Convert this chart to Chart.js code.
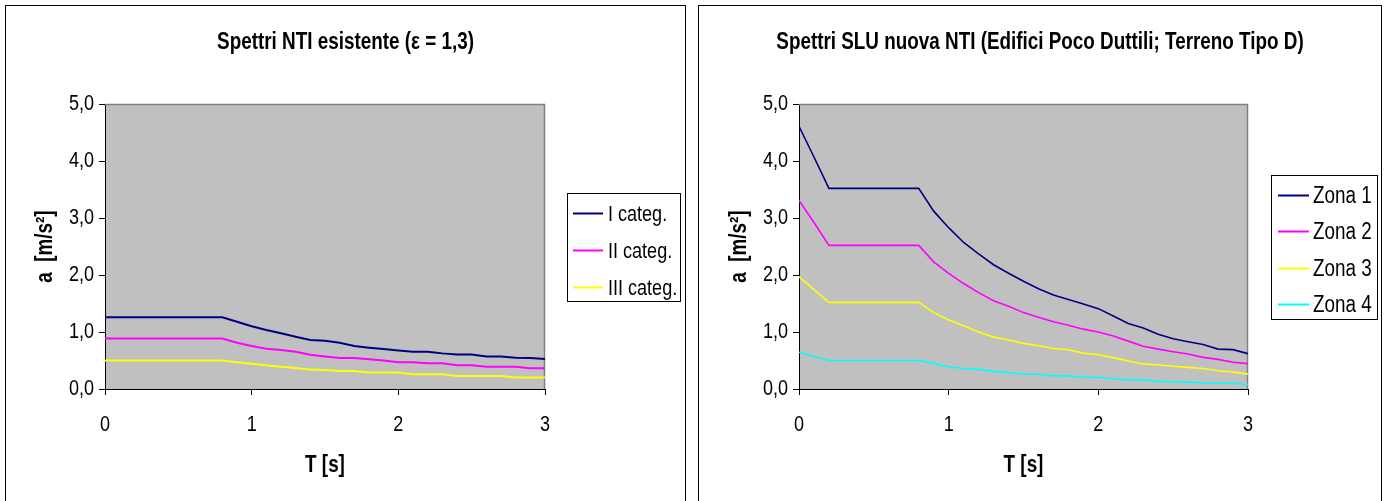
<!DOCTYPE html>
<html>
<head>
<meta charset="utf-8">
<script src="https://cdn.jsdelivr.net/npm/chart.js@4.4.1/dist/chart.umd.min.js"></script>
<style>
  html, body { margin: 0; padding: 0; background: #fff; overflow: hidden; }
  .box { position: absolute; border: 1px solid #000; background: #fff; }
  #boxA { left: 5px; top: 5px; width: 679px; height: 510px; }
  #boxB { left: 698px; top: 5px; width: 682px; height: 510px; }
  canvas { display: block; }
</style>
</head>
<body>
<div class="box" id="boxA"><canvas id="chartNTI" width="679" height="490"></canvas></div>
<div class="box" id="boxB"><canvas id="chartSLU" width="682" height="490"></canvas></div>
<script>
// Period T [s]
const periods = [0, 0.1, 0.2, 0.3, 0.4, 0.5, 0.6, 0.7, 0.8, 0.9, 1.0,
                 1.1, 1.2, 1.3, 1.4, 1.5, 1.6, 1.7, 1.8, 1.9, 2.0,
                 2.1, 2.2, 2.3, 2.4, 2.5, 2.6, 2.7, 2.8, 2.9, 3.0];

// Existing code spectra, a [m/s²]
const categI   = [1.26, 1.26, 1.26, 1.26, 1.26, 1.26, 1.26, 1.26, 1.26, 1.18, 1.10,
                  1.035, 0.977, 0.918, 0.86, 0.845, 0.81, 0.755, 0.725, 0.70, 0.675,
                  0.655, 0.655, 0.625, 0.605, 0.605, 0.57, 0.57, 0.55, 0.545, 0.525];
const categII  = [0.885, 0.885, 0.885, 0.885, 0.885, 0.885, 0.885, 0.885, 0.885, 0.81, 0.755,
                  0.705, 0.685, 0.655, 0.60, 0.57, 0.545, 0.545, 0.52, 0.50, 0.47,
                  0.47, 0.45, 0.45, 0.415, 0.415, 0.39, 0.39, 0.39, 0.365, 0.365];
const categIII = [0.50, 0.50, 0.50, 0.50, 0.50, 0.50, 0.50, 0.50, 0.50, 0.47, 0.445,
                  0.415, 0.39, 0.37, 0.34, 0.335, 0.315, 0.315, 0.29, 0.29, 0.29,
                  0.26, 0.26, 0.26, 0.23, 0.23, 0.23, 0.23, 0.20, 0.20, 0.20];

// New code ULS spectra (low ductility buildings, soil type D), a [m/s²]
const zona1 = [4.61, 4.07, 3.52, 3.52, 3.52, 3.52, 3.52, 3.52, 3.52, 3.12, 2.83,
               2.57, 2.37, 2.18, 2.03, 1.89, 1.76, 1.65, 1.57, 1.49, 1.41,
               1.28, 1.15, 1.07, 0.96, 0.88, 0.83, 0.78, 0.70, 0.69, 0.62];
const zona2 = [3.31, 2.92, 2.52, 2.52, 2.52, 2.52, 2.52, 2.52, 2.52, 2.23, 2.03,
               1.85, 1.69, 1.55, 1.45, 1.34, 1.26, 1.18, 1.12, 1.05, 1.00,
               0.93, 0.84, 0.75, 0.70, 0.655, 0.615, 0.555, 0.52, 0.47, 0.445];
const zona3 = [1.97, 1.745, 1.52, 1.52, 1.52, 1.52, 1.52, 1.52, 1.52, 1.34, 1.21,
               1.11, 1.00, 0.91, 0.86, 0.80, 0.76, 0.71, 0.69, 0.63, 0.60,
               0.55, 0.49, 0.44, 0.42, 0.40, 0.38, 0.36, 0.32, 0.30, 0.26];
const zona4 = [0.645, 0.57, 0.50, 0.50, 0.50, 0.50, 0.50, 0.50, 0.50, 0.45, 0.39,
               0.36, 0.345, 0.31, 0.29, 0.26, 0.26, 0.23, 0.23, 0.205, 0.205,
               0.18, 0.16, 0.16, 0.13, 0.13, 0.12, 0.105, 0.105, 0.10, 0.08];

// Axis tick labels
const xTickLabels = ['0', '1', '2', '3'];
const yTickLabels = ['0,0', '1,0', '2,0', '3,0', '4,0', '5,0'];

// Condensed lettering: every canvas string is drawn (and measured) narrower
const CONDENSE = 0.82;
(function () {
  const proto = CanvasRenderingContext2D.prototype;
  const fill = proto.fillText, measure = proto.measureText;
  proto.fillText = function (text, x, y, maxWidth) {
    this.save();
    this.translate(x, y);
    this.scale(CONDENSE, 1);
    if (maxWidth === undefined) fill.call(this, text, 0, 0);
    else fill.call(this, text, 0, 0, maxWidth / CONDENSE);
    this.restore();
  };
  proto.measureText = function (text) {
    const m = measure.call(this, text);
    return {
      width: m.width * CONDENSE,
      actualBoundingBoxLeft: m.actualBoundingBoxLeft * CONDENSE,
      actualBoundingBoxRight: m.actualBoundingBoxRight * CONDENSE,
      actualBoundingBoxAscent: m.actualBoundingBoxAscent,
      actualBoundingBoxDescent: m.actualBoundingBoxDescent,
      fontBoundingBoxAscent: m.fontBoundingBoxAscent,
      fontBoundingBoxDescent: m.fontBoundingBoxDescent
    };
  };
})();

const FONT = "'Liberation Sans', Arial, sans-serif";
Chart.defaults.font.family = FONT;
Chart.defaults.color = '#000';

const toPoints = (vals) => periods.map((t, i) => ({ x: t, y: vals[i] }));

// Grey plot area with a grey frame on the top and right edges
const plotFrame = {
  id: 'plotFrame',
  beforeDraw(chart) {
    const { ctx, chartArea: a } = chart;
    ctx.save();
    ctx.fillStyle = '#c0c0c0';
    ctx.fillRect(a.left, a.top, a.right - a.left, a.bottom - a.top);
    ctx.restore();
  },
  beforeDatasetsDraw(chart) {
    const { ctx, chartArea: a } = chart;
    ctx.save();
    ctx.strokeStyle = '#808080';
    ctx.lineWidth = 1.5;
    ctx.beginPath();
    ctx.moveTo(a.left, a.top + 0.5);
    ctx.lineTo(a.right - 0.5, a.top + 0.5);
    ctx.lineTo(a.right - 0.5, a.bottom);
    ctx.stroke();
    ctx.restore();
  }
};

// Framed legend to the right of the plot
const boxLegend = {
  id: 'boxLegend',
  afterDraw(chart, args, o) {
    const ctx = chart.ctx;
    ctx.save();
    ctx.fillStyle = '#fff';
    ctx.fillRect(o.x, o.y, o.w, o.h);
    ctx.strokeStyle = '#000';
    ctx.lineWidth = 1;
    ctx.strokeRect(o.x + 0.5, o.y + 0.5, o.w, o.h);
    ctx.font = o.fontSize + 'px ' + FONT;
    ctx.textBaseline = 'middle';
    ctx.textAlign = 'left';
    chart.data.datasets.forEach((ds, i) => {
      const y = Math.round(o.rowY0 + i * o.rowGap) + 0.5;
      ctx.strokeStyle = ds.borderColor;
      ctx.lineWidth = 2;
      ctx.beginPath();
      ctx.moveTo(o.lineX0, y);
      ctx.lineTo(o.lineX1, y);
      ctx.stroke();
      ctx.fillStyle = '#000';
      ctx.fillText(ds.label, o.textX, y + 1);
    });
    ctx.restore();
  }
};

function makeOptions(cfg) {
  return {
    responsive: false,
    animation: false,
    layout: { padding: 0 },
    elements: { point: { radius: 0 }, line: { tension: 0 } },
    plugins: {
      legend: { display: false },
      tooltip: { enabled: false },
      title: {
        display: true,
        text: cfg.title,
        font: { size: 23, weight: 'bold' },
        color: '#000',
        padding: { top: 23.2, bottom: 47.2 }
      },
      boxLegend: cfg.legend
    },
    scales: {
      x: {
        type: 'linear',
        min: 0, max: 3,
        afterFit: (s) => { s.height = 107; },
        ticks: {
          stepSize: 1,
          padding: 17,
          font: { size: 22 },
          color: '#000',
          callback: (v, i) => xTickLabels[i]
        },
        grid: { display: true, drawOnChartArea: false, drawTicks: true, tickLength: 6, color: '#000' },
        border: { display: true, color: '#000', width: 1 },
        title: {
          display: true,
          text: 'T [s]',
          font: { size: 23, weight: 'bold' },
          color: '#000',
          padding: { top: 0, bottom: 17 }
        }
      },
      y: {
        type: 'linear',
        min: 0, max: 5,
        afterFit: (s) => { s.width = cfg.yWidth; },
        ticks: {
          stepSize: 1,
          padding: 5,
          font: { size: 22 },
          color: '#000',
          callback: (v, i) => yTickLabels[i]
        },
        grid: { display: true, drawOnChartArea: false, drawTicks: true, tickLength: 6, color: '#000' },
        border: { display: true, color: '#000', width: 1 },
        title: {
          display: true,
          text: 'a  [m/s²]',
          font: { size: 23, weight: 'bold' },
          color: '#000',
          padding: { top: cfg.yTitlePad, bottom: 0 }
        }
      },
      // empty band on the right that holds the legend
      side: {
        type: 'linear',
        position: 'right',
        display: true,
        afterFit: (s) => { s.width = cfg.sideWidth; },
        ticks: { display: false },
        grid: { display: false },
        border: { display: false },
        title: { display: false }
      }
    }
  };
}

new Chart(document.getElementById('chartNTI'), {
  type: 'line',
  data: {
    datasets: [
      { label: 'I categ.',   data: toPoints(categI),   borderColor: '#000080', borderWidth: 2 },
      { label: 'II categ.',  data: toPoints(categII),  borderColor: '#ff00ff', borderWidth: 2 },
      { label: 'III categ.', data: toPoints(categIII), borderColor: '#ffff00', borderWidth: 2 }
    ]
  },
  options: makeOptions({
    title: 'Spettri NTI esistente (ε = 1,3)',
    sideWidth: 140,
    yWidth: 99,
    yTitlePad: 26,
    legend: { x: 561, y: 187, w: 113, h: 108, lineX0: 567, lineX1: 597, textX: 602,
              rowY0: 207, rowGap: 37, fontSize: 22 }
  }),
  plugins: [plotFrame, boxLegend]
});

new Chart(document.getElementById('chartSLU'), {
  type: 'line',
  data: {
    datasets: [
      { label: 'Zona 1', data: toPoints(zona1), borderColor: '#000080', borderWidth: 1.6 },
      { label: 'Zona 2', data: toPoints(zona2), borderColor: '#ff00ff', borderWidth: 1.6 },
      { label: 'Zona 3', data: toPoints(zona3), borderColor: '#ffff00', borderWidth: 1.6 },
      { label: 'Zona 4', data: toPoints(zona4), borderColor: '#00ffff', borderWidth: 1.6 }
    ]
  },
  options: makeOptions({
    title: 'Spettri SLU nuova NTI (Edifici Poco Duttili; Terreno Tipo D)',
    sideWidth: 133,
    yWidth: 100,
    yTitlePad: 27,
    legend: { x: 572, y: 169, w: 106, h: 144, lineX0: 579, lineX1: 610, textX: 614,
              rowY0: 189, rowGap: 36.3, fontSize: 23 }
  }),
  plugins: [plotFrame, boxLegend]
});
</script>
</body>
</html>
